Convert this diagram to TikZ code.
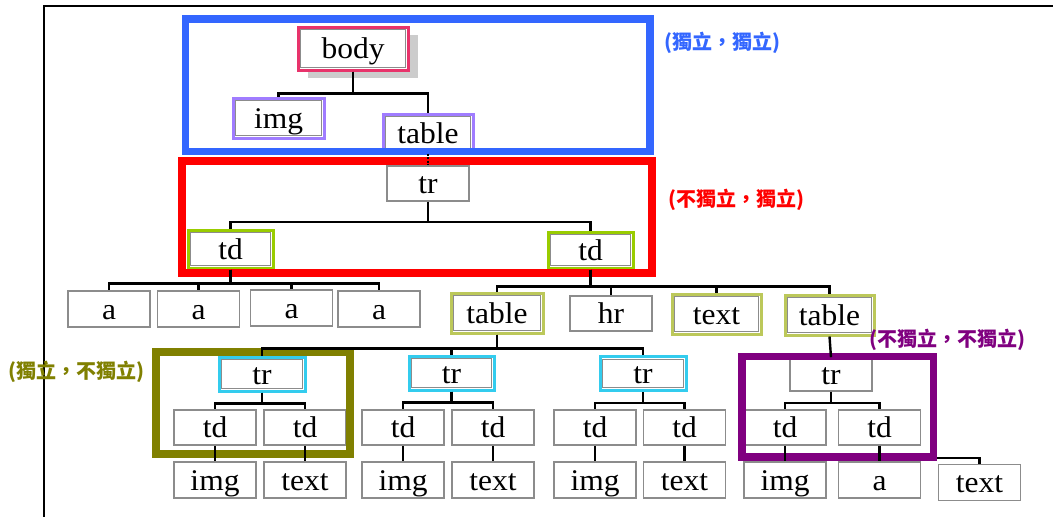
\documentclass[tikz,border=0pt]{standalone}
\usepackage{fontspec}
\setmainfont{Liberation Serif}[FakeStretch=1.05]
\newfontfamily\cjk{Noto Sans CJK TC}
\usetikzlibrary{calc}
\definecolor{boxgray}{HTML}{8C8C8C}
\definecolor{shadowgray}{HTML}{CCCCCC}
\definecolor{bodypink}{HTML}{E8336B}
\definecolor{lav}{HTML}{A07CFF}
\definecolor{tdgreen}{HTML}{99CC00}
\definecolor{khaki}{HTML}{BCC85A}
\definecolor{cyanb}{HTML}{33CCEE}
\definecolor{fblue}{HTML}{3366FF}
\definecolor{fred}{HTML}{FF0000}
\definecolor{folive}{HTML}{808000}
\definecolor{fpurple}{HTML}{800080}
\begin{document}
\begin{tikzpicture}[x=1pt,y=-1pt,
  box/.style={draw=boxgray, line width=1.6pt, fill=white, inner sep=0pt,
    minimum width=82pt, minimum height=36pt, text height=20pt, text depth=0pt,
    font=\fontsize{30}{32}\selectfont},
  cbox/.style={box, draw=#1, line width=3pt,
    path picture={\draw[boxgray, line width=0.9pt]
      ([shift={(2.6pt,2.6pt)}]path picture bounding box.south west) rectangle
      ([shift={(-2.6pt,-2.6pt)}]path picture bounding box.north east);}},
  conn/.style={line width=2.4pt, black},
  frame/.style={line width=7.5pt},
  lbl/.style={anchor=west, inner sep=0pt, font=\cjk\bfseries\fontsize{20}{22}\selectfont}
]
\fill[white] (0,0) rectangle (1053,517);
\useasboundingbox (0,0) rectangle (1053,517);
\draw[line width=2.5pt] (44,517) -- (44,6) -- (1053,6);

% top level
\node[box, fill=shadowgray, draw=none, minimum width=110pt, minimum height=43pt] (bshadow) at (363,56.5) {};
\node[cbox=bodypink, minimum width=110pt, minimum height=43pt] (body) at (353,48.5) {body};
\node[cbox=lav, minimum width=91pt, minimum height=40pt] (img0) at (278.5,118) {img};
\node[cbox=lav, minimum width=90pt, minimum height=38pt] (tab0) at (428,133) {table};
\node[box, minimum height=35pt] (tr0) at (428,183.5) {tr};
\node[cbox=tdgreen, minimum width=85pt, minimum height=38pt] (tdL) at (230.5,249) {td};
\node[cbox=tdgreen, minimum width=85pt, minimum height=36pt] (tdR) at (590.5,250) {td};

% a row
\node[box] (a1) at (109,309) {a};
\node[box] (a2) at (198.5,309) {a};
\node[box] (a3) at (291.5,308) {a};
\node[box] (a4) at (379,309) {a};
\node[cbox=khaki, minimum width=92pt, minimum height=40pt] (tab1) at (497,313) {table};
\node[box, minimum height=35pt] (hr) at (611,313.5) {hr};
\node[cbox=khaki, minimum width=89pt, minimum height=40pt] (txt1) at (716.5,314) {text};
\node[cbox=khaki, minimum width=89pt, minimum height=40pt] (tab2) at (829.5,315) {table};

% tr row
\node[cbox=cyanb, minimum width=86pt, minimum height=34pt] (tr1) at (262,374) {tr};
\node[cbox=cyanb, minimum width=85pt, minimum height=34pt] (tr2) at (451.5,373) {tr};
\node[cbox=cyanb, minimum width=86pt, minimum height=34pt] (tr3) at (643,373.5) {tr};
\node[box, minimum height=33pt] (tr4) at (831,374.5) {tr};

% td row
\node[box, minimum height=35pt] (td1a) at (215,427.5) {td};
\node[box, minimum height=35pt] (td1b) at (305,427.5) {td};
\node[box, minimum height=35pt] (td2a) at (403,427.5) {td};
\node[box, minimum height=35pt] (td2b) at (493,427.5) {td};
\node[box, minimum height=35pt] (td3a) at (595,427.5) {td};
\node[box, minimum height=35pt] (td3b) at (684.5,427.5) {td};
\node[box, minimum height=35pt] (td4a) at (785,427.5) {td};
\node[box, minimum height=35pt] (td4b) at (879.5,427.5) {td};

% bottom row
\node[box] (im1) at (215,480) {img};
\node[box] (tx1) at (305,480) {text};
\node[box] (im2) at (403,480) {img};
\node[box] (tx2) at (493,480) {text};
\node[box] (im3) at (595,480) {img};
\node[box] (tx3) at (684.5,480) {text};
\node[box] (im4) at (785,480) {img};
\node[box] (aa4) at (879.5,480) {a};
\node[box] (tx4) at (979.5,482.5) {text};

% connector hidden partly under the purple frame
\draw[conn] (td4b.south) -- ++(0,12) -| (tx4.north);

% frames
\draw[frame, fblue] (185.5,19) rectangle (650,151.5);
\draw[frame, fred, line width=8pt] (181.5,161) rectangle (651.7,272.5);
\draw[frame, folive, line width=8pt] (156,352) rectangle (350,453.5);
\draw[frame, fpurple] (742,356.5) rectangle (933.5,457);

% connectors
\draw[conn] (body.south) -- ++(0,22) -| (img0.north);
\draw[conn] (body.south) -- ++(0,22) -| (tab0.north);
\draw[line width=1.2pt, dash pattern=on 2pt off 1.5pt] (tab0.south) -- (tr0.north);
\draw[conn] (tr0.south) -- ++(0,20) -| (tdL.north);
\draw[conn] (tr0.south) -- ++(0,20) -| (tdR.north);
\foreach \c in {a1,a2,a3,a4}
  \draw[conn] (tdL.south) -- ++(0,14) -| (\c.north);
\foreach \c in {tab1,hr,txt1,tab2}
  \draw[conn] (tdR.south) -- ++(0,17) -| (\c.north);
\foreach \c in {tr1,tr2,tr3}
  \draw[conn] (tab1.south) -- ++(0,14) -| (\c.north);
\draw[conn] (tab2.south) -- (tr4.north);
\foreach \p/\x/\y in {tr1/td1a/td1b,tr2/td2a/td2b,tr3/td3a/td3b,tr4/td4a/td4b}{
  \draw[conn] (\p.south) -- ++(0,11) -| (\x.north);
  \draw[conn] (\p.south) -- ++(0,11) -| (\y.north);
}
\foreach \u/\v in {td1a/im1,td1b/tx1,td2a/im2,td2b/tx2,td3a/im3,td3b/tx3,td4a/im4,td4b/aa4}
  \draw[conn] (\u.south) -- (\v.north);

% labels
\node[lbl, text=fblue] (l1) at (664,43) {(獨立，獨立)};
\node[lbl, text=fred] (l2) at (668,200) {(不獨立，獨立)};
\node[lbl, text=folive] (l3) at (8,372) {(獨立，不獨立)};
\node[lbl, text=fpurple] (l4) at (869,340) {(不獨立，不獨立)};
\end{tikzpicture}
\end{document}
